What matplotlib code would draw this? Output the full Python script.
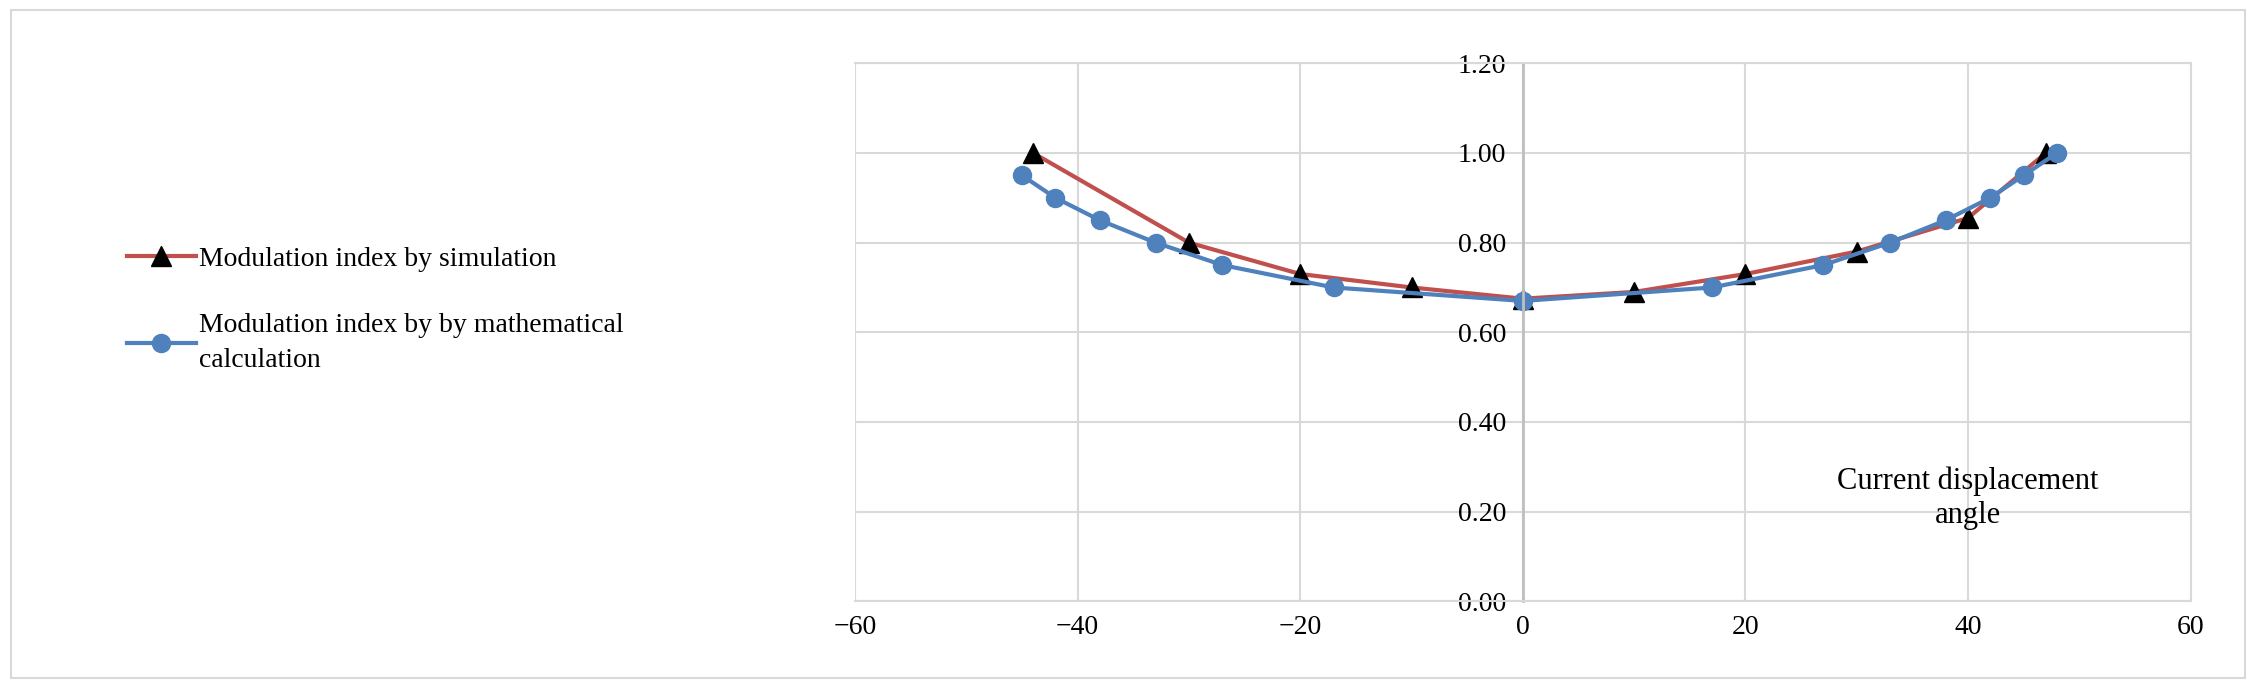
import matplotlib
matplotlib.use("Agg")
import matplotlib.pyplot as plt
from matplotlib.patches import Rectangle

sim_x = [-44, -30, -20, -10, 0, 10, 20, 30, 40, 47]
sim_y = [1.00, 0.80, 0.73, 0.70, 0.675, 0.69, 0.73, 0.78, 0.855, 1.00]
calc_x = [-45, -42, -38, -33, -27, -17, 0, 17, 27, 33, 38, 42, 45, 48]
calc_y = [0.95, 0.90, 0.85, 0.80, 0.75, 0.70, 0.67, 0.70, 0.75, 0.80, 0.85, 0.90, 0.95, 1.00]
xticks = [-60, -40, -20, 0, 20, 40, 60]
yticks = [0.0, 0.2, 0.4, 0.6, 0.8, 1.0, 1.2]

plt.rcParams['font.family'] = ['Liberation Serif', 'DejaVu Serif']
fig = plt.figure(figsize=(22.56, 6.88), dpi=100)
fig.patches.append(Rectangle((0.005, 0.015), 0.99, 0.97, transform=fig.transFigure,
                             fill=False, edgecolor='#d9d9d9', lw=1.5))
ax = fig.add_axes([0.379, 0.126, 0.592, 0.782])
ax.set_xlim(-60, 60)
ax.set_ylim(0, 1.2)
ax.set_xticks(xticks)
ax.set_yticks(yticks)
ax.set_xticklabels([str(t).replace('-', '\u2212') for t in xticks])
ax.set_yticklabels([f"{t:.2f}" for t in yticks])
ax.grid(True, color='#d9d9d9', lw=1.5)
ax.set_axisbelow(True)
for s in ['top', 'right', 'bottom']:
    ax.spines[s].set_color('#d9d9d9'); ax.spines[s].set_linewidth(1.5)
ax.spines['left'].set_position(('data', 0))
ax.spines['left'].set_color('#bfbfbf'); ax.spines['left'].set_linewidth(2)
ax.tick_params(axis='x', length=0, labelsize=20, pad=10)
ax.tick_params(axis='y', length=0, labelsize=20, pad=12)
for lab in ax.get_yticklabels():
    lab.set_horizontalalignment('right')

l1, = ax.plot(sim_x, sim_y, color='#c0504d', lw=3, marker='^', ms=14,
              mfc='black', mec='black', label='Modulation index by simulation')
l2, = ax.plot(calc_x, calc_y, color='#4f81bd', lw=3, marker='o', ms=13,
              mfc='#4f81bd', mec='#4f81bd',
              label='Modulation index by by mathematical\ncalculation')
ax.text(40, 0.23, 'Current displacement\nangle', ha='center', va='center', fontsize=22)

leg = fig.legend(handles=[l1, l2], loc='center left', bbox_to_anchor=(0.045, 0.55),
                 frameon=False, fontsize=20, handlelength=2.5, handletextpad=0.1,
                 labelspacing=1.5)
for t in leg.get_texts():
    t.set_linespacing(1.5)
fig.savefig('out.png', dpi=100)
